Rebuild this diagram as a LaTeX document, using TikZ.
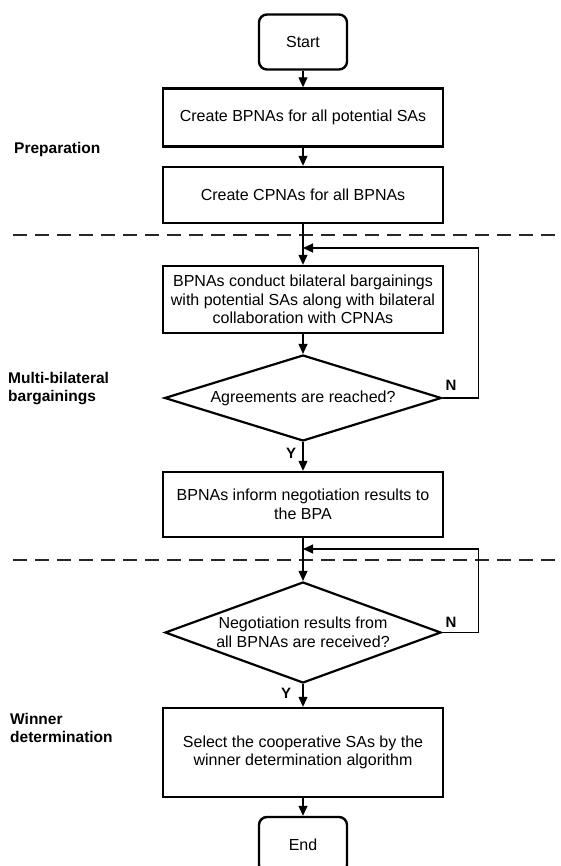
\documentclass[tikz,border=0pt]{standalone}
\usepackage{fontspec}
\setmainfont{Liberation Sans}
\usetikzlibrary{shapes.geometric,arrows.meta}
\begin{document}
\begin{tikzpicture}[x=1pt,y=-1pt,
  every node/.style={font=\fontsize{16}{18.5}\selectfont},
  procbox/.style={draw,line width=2.4pt,minimum width=280pt,align=center,inner sep=0pt},
  termbox/.style={draw,line width=2.4pt,rounded corners=8pt,minimum width=88pt,minimum height=55pt,inner sep=0pt},
  decbox/.style={draw,diamond,line width=2.2pt,align=center,inner sep=0pt},
  conn/.style={line width=1.1pt,-{Triangle[length=10pt,width=9pt]}},
  sepline/.style={line width=1.6pt,black!85,dash pattern=on 14pt off 8pt},
  phase/.style={font=\bfseries\fontsize{15.5}{18}\selectfont,anchor=west,align=left,inner sep=0pt},
  yn/.style={font=\bfseries\fontsize{15}{18}\selectfont}
]
\clip (0,0) rectangle (561,866);
\fill[white] (0,0) rectangle (561,866);

% separators
\coordinate (s1a) at (13,235);
\coordinate (s1b) at (561,235);
\coordinate (s2a) at (13,560);
\coordinate (s2b) at (561,560);
\draw[sepline] (s1a) -- (s1b);
\draw[sepline] (s2a) -- (s2b);

% phase labels
\node[phase] (ph1) at (14,149) {Preparation};
\node[phase] (ph2) at (8,389) {Multi-bilateral\\bargainings};
\node[phase] (ph3) at (10,728) {Winner\\determination};

% nodes
\node[termbox] (start) at (303,42) {Start};
\node[procbox,minimum height=58pt] (b1) at (303,117.5) {Create BPNAs for all potential SAs};
\node[procbox,minimum height=56pt] (b2) at (303,195) {Create CPNAs for all BPNAs};
\node[procbox,minimum height=67pt] (b3) at (303,299.5) {BPNAs conduct bilateral bargainings\\with potential SAs along with bilateral\\collaboration with CPNAs};
\node[decbox,aspect=3.2,minimum width=277pt,minimum height=86pt] (d1) at (303,398) {Agreements are reached?};
\node[procbox,minimum height=65pt] (b4) at (303,504.5) {BPNAs inform negotiation results to\\the BPA};
\node[decbox,aspect=2.73,minimum width=276pt,minimum height=101pt] (d2) at (303,632.5) {Negotiation results from\\all BPNAs are received?};
\node[procbox,minimum height=89pt] (b5) at (303,752.5) {Select the cooperative SAs by the\\winner determination algorithm};
\node[termbox,minimum height=56pt] (end) at (303,845) {End};

% main flow
\draw[conn] (start) -- (b1);
\draw[conn] (b1) -- (b2);
\draw[conn] (b2) -- (b3);
\draw[conn] (b3) -- (d1);
\draw[conn] (d1.south) -- (b4);
\draw[conn] (b4) -- (d2);
\draw[conn] (d2.south) -- (b5);
\draw[conn] (b5) -- (end);

% feedback loops
\coordinate (j1) at (303,248);
\coordinate (j2) at (303,549);
\draw[conn] (d1.east) -- ++(36,0) |- (j1);
\draw[conn] (d2.east) -- ++(36,0) |- (j2);

% Y / N labels
\node[yn] (n1) at (451,385) {N};
\node[yn] (y1) at (291,453) {Y};
\node[yn] (n2) at (451,622) {N};
\node[yn] (y2) at (286,693) {Y};
\end{tikzpicture}
\end{document}
